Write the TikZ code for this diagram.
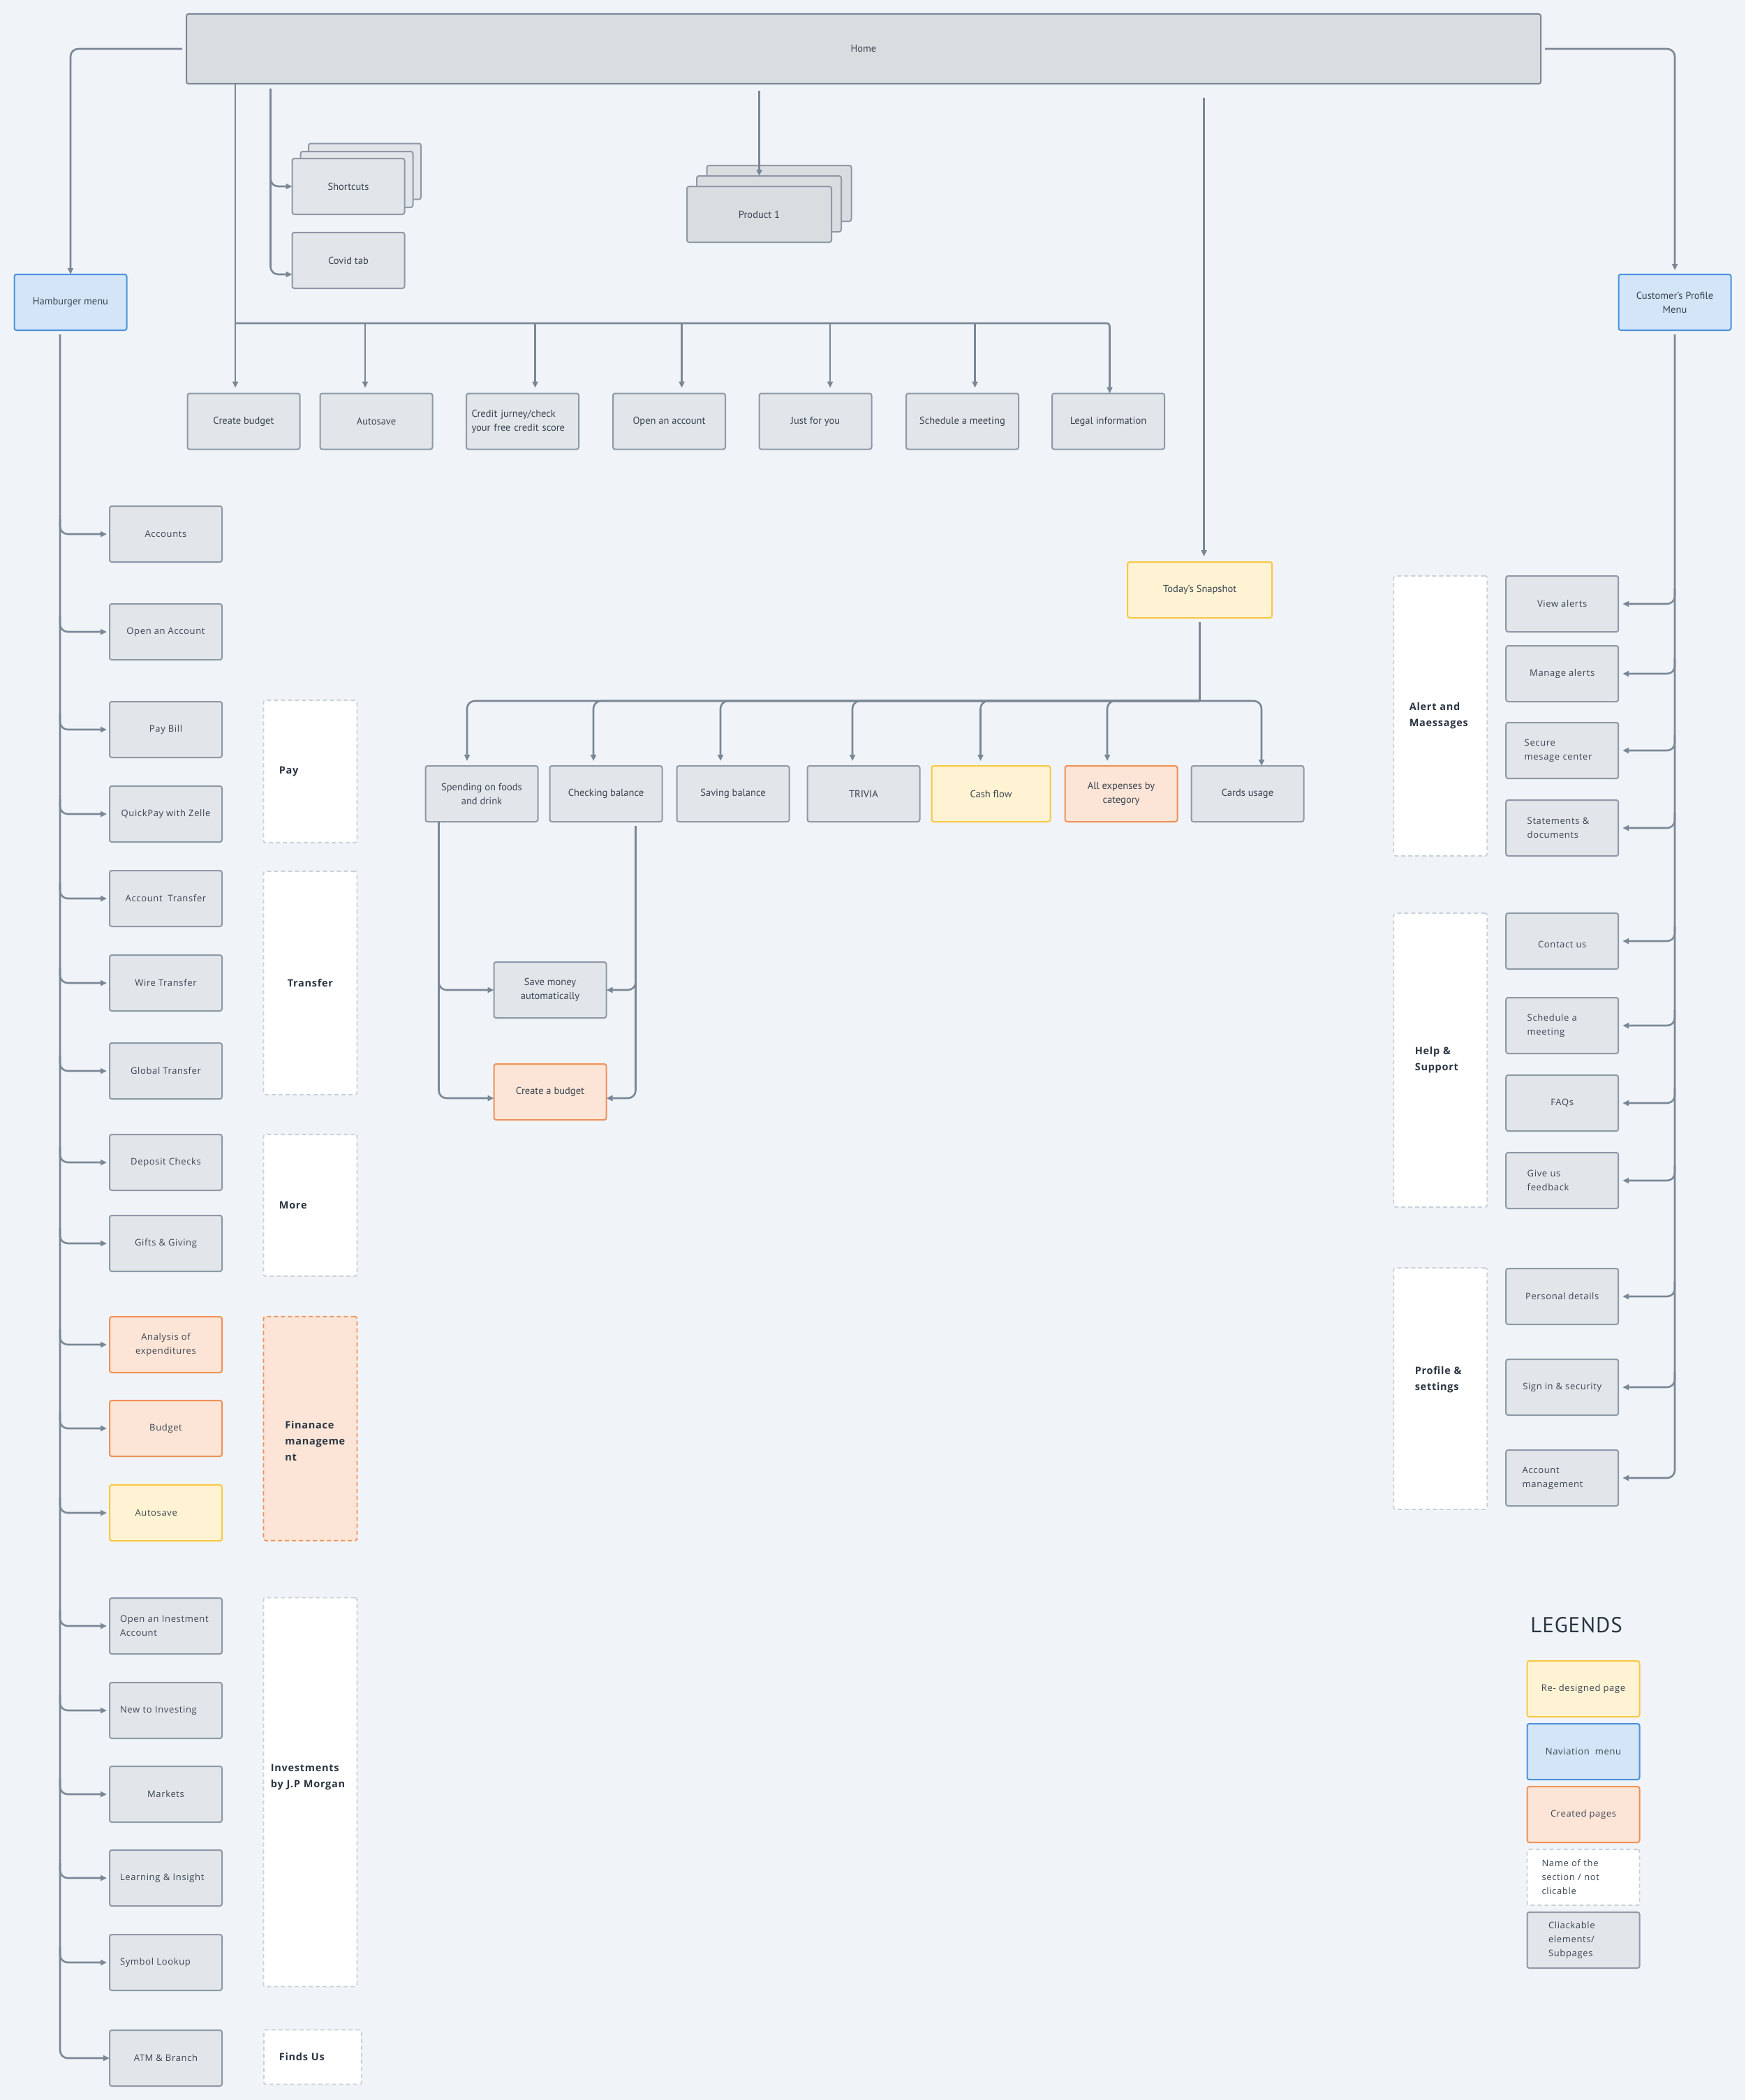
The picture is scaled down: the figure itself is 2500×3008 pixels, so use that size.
\documentclass[tikz,border=0pt]{standalone}
\usepackage{fontspec}
\setmainfont{PT Sans}
\newfontfamily\widefont[LetterSpace=5]{Open Sans}
\newfontfamily\legendfont[LetterSpace=3]{PT Sans}
\usetikzlibrary{positioning, arrows.meta, calc}

\definecolor{bgc}{HTML}{F0F4F8}
\definecolor{boxfill}{HTML}{E2E5E9}
\definecolor{boxline}{HTML}{8E99A6}
\definecolor{homefill}{HTML}{DADDE0}
\definecolor{homeline}{HTML}{7B8694}
\definecolor{wirec}{HTML}{7A8796}
\definecolor{navfill}{HTML}{D3E5F7}
\definecolor{navline}{HTML}{4A91DE}
\definecolor{redofill}{HTML}{FFF3D3}
\definecolor{redoline}{HTML}{F8C744}
\definecolor{madefill}{HTML}{FCE4D6}
\definecolor{madeline}{HTML}{EF9157}
\definecolor{secline}{HTML}{C9D1DA}
\definecolor{txt}{HTML}{3A4552}
\definecolor{txtdark}{HTML}{2A3542}

\begin{document}
\hyphenpenalty=10000
\begin{tikzpicture}[
  x=1pt, y=-1pt,
  box/.style={rectangle, draw=boxline, fill=boxfill, line width=2pt, rounded corners=3pt,
              minimum width=161pt, minimum height=80pt, inner sep=4pt, outer sep=0pt,
              align=center, text=txt, font=\fontsize{14.5}{20}\selectfont},
  sidebox/.style={box, font=\widefont\fontsize{13}{20}\selectfont},
  navcol/.style={fill=navfill, draw=navline},
  redocol/.style={fill=redofill, draw=redoline},
  madecol/.style={fill=madefill, draw=madeline},
  secbox/.style={rectangle, draw=secline, fill=white, line width=1.8pt,
                 dash pattern=on 6pt off 4pt, rounded corners=3pt, minimum width=134pt,
                 inner sep=2pt, outer sep=0pt, align=left, text=txtdark,
                 font=\widefont\bfseries\fontsize{14.5}{23}\selectfont},
  wire/.style={draw=wirec, line width=2.6pt, rounded corners=11pt},
  conn/.style={wire, -{Triangle[length=9pt,width=8pt]}},
]
  \fill[bgc] (0,0) rectangle (2500,3008);
  \useasboundingbox (0,0) rectangle (2500,3008);

  % home and the two menus
  \node[box, minimum width=1940pt, minimum height=100pt, fill=homefill, draw=homeline]
       (home) at (1237,70) {Home};
  \node[box, navcol] (ham) at (101,433) {Hamburger menu};
  \node[box, navcol] (cust) at (2399,433) {Customer’s Profile\\Menu};

  % stacked pages
  \node[box] (sc3) at (522.5,245.5) {};
  \node[box] (sc2) at (511,257) {};
  \node[box] (sc) at (499,267) {Shortcuts};
  \node[box] (covid) at (499,373) {Covid tab};
  \node[box, minimum width=207pt, fill=homefill] (prod3) at (1116,277) {};
  \node[box, minimum width=207pt, fill=homefill] (prod2) at (1101.5,292) {};
  \node[box, minimum width=207pt, fill=homefill] (prod1) at (1087.5,307) {Product 1};

  % home row
  \node[box] (cb) at (349,603.5) {Create budget};
  \node[box, right=29pt of cb] (autosave) {Autosave};
  \node[box, right=48.5pt of autosave, align=left, text width=146pt, inner xsep=6pt]
       (credit) {Credit jurney/check\\your free credit score};
  \node[box, right=49pt of credit] (openacct) {Open an account};
  \node[box, right=48.5pt of openacct] (jfy) {Just for you};
  \node[box, right=49.5pt of jfy] (sched) {Schedule a meeting};
  \node[box, right=48pt of sched] (legal) {Legal information};

  % snapshot
  \node[box, redocol, minimum width=207pt] (snap) at (1718.7,845) {Today’s Snapshot};
  \node[box] (spend) at (690,1137) {Spending on foods\\and drink};
  \node[box, right=17pt of spend] (check) {Checking balance};
  \node[box, right=21pt of check] (saving) {Saving balance};
  \node[box, right=26pt of saving] (trivia) {TRIVIA};
  \node[box, redocol, minimum width=170pt, right=17pt of trivia] (cash) {Cash flow};
  \node[box, madecol, right=21pt of cash] (allexp) {All expenses by\\category};
  \node[box, right=20pt of allexp] (cards) {Cards usage};
  \node[box] (save) at (788,1418) {Save money\\automatically};
  \node[box, madecol, below=66pt of save] (cbud) {Create a budget};

  % hamburger menu items
  \node[sidebox] (acc) at (237.5,765) {Accounts};
  \node[sidebox, below=60pt of acc] (openacc) {Open an Account};
  \node[sidebox, below=60pt of openacc] (paybill) {Pay Bill};
  \node[sidebox, below=41pt of paybill] (quickpay) {QuickPay with Zelle};
  \node[sidebox, below=41pt of quickpay] (acctrans) {Account~~Transfer};
  \node[sidebox, below=41pt of acctrans] (wiretr) {Wire Transfer};
  \node[sidebox, below=46pt of wiretr] (globaltr) {Global Transfer};
  \node[sidebox, below=51pt of globaltr] (deposit) {Deposit Checks};
  \node[sidebox, below=36pt of deposit] (gifts) {Gifts \& Giving};
  \node[sidebox, madecol, below=65pt of gifts] (analysis) {Analysis of\\expenditures};
  \node[sidebox, madecol, below=40pt of analysis] (budget) {Budget};
  \node[sidebox, redocol, below=41pt of budget, align=left, text width=88pt] (autosave2) {Autosave};
  \node[sidebox, below=82pt of autosave2, align=left, text width=131pt] (openinv) {Open an Inestment\\Account};
  \node[sidebox, below=41pt of openinv, align=left, text width=131pt] (newinv) {New to Investing};
  \node[sidebox, below=40pt of newinv] (markets) {Markets};
  \node[sidebox, below=40pt of markets, align=left, text width=131pt] (learning) {Learning \& Insight};
  \node[sidebox, below=41pt of learning, align=left, text width=131pt] (symbol) {Symbol Lookup};
  \node[sidebox, below=57pt of symbol] (atm) {ATM \& Branch};

  % hamburger sections
  \node[secbox, minimum height=204pt, text width=89pt] (pay) at (444.4,1105) {Pay};
  \node[secbox, minimum height=320pt, text width=89pt, align=center] (transfer) at (444.4,1408) {Transfer};
  \node[secbox, minimum height=203pt, text width=89pt] (more) at (444.4,1726.5) {More};
  \node[secbox, madecol, minimum height=321pt, text width=72pt] (finance) at (444.4,2046.3)
       {\mbox{}\\\mbox{}\\Finanace\\manageme\\nt};
  \node[secbox, minimum height=557pt, text width=113pt] (invest) at (444.4,2567)
       {Investments\\by J.P Morgan\\\mbox{}\\\mbox{}};
  \node[secbox, minimum width=140pt, minimum height=78pt, text width=96pt] (finds) at (447.9,2946.5) {Finds Us};

  % profile menu items
  \node[sidebox] (view) at (2237.7,865) {View alerts};
  \node[sidebox, below=20pt of view] (manage) {Manage alerts};
  \node[sidebox, below=30pt of manage, align=left, text width=108pt] (secure) {Secure\\mesage center};
  \node[sidebox, below=31pt of secure, align=left, text width=100pt] (statements) {Statements \&\\documents};
  \node[sidebox, below=82pt of statements] (contact) {\mbox{}\\Contact us};
  \node[sidebox, below=41pt of contact, align=left, text width=100pt] (schedule2) {Schedule a\\meeting};
  \node[sidebox, below=31pt of schedule2] (faqs) {FAQs};
  \node[sidebox, below=31pt of faqs, align=left, text width=100pt] (feedback) {Give us\\feedback};
  \node[sidebox, below=86pt of feedback] (personal) {Personal details};
  \node[sidebox, below=50pt of personal] (signin) {Sign in \& security};
  \node[sidebox, below=50pt of signin, align=left, text width=114pt] (acctmgmt) {Account\\management};

  % profile sections
  \node[secbox, minimum height=401pt, text width=89pt] (alerts) at (2063.3,1025.4) {Alert and\\Maessages};
  \node[secbox, minimum height=421pt, text width=73pt] (help) at (2063.3,1518.5) {Help \&\\Support};
  \node[secbox, minimum height=346pt, text width=73pt] (profile) at (2063.3,1989)
       {Profile \&\\settings\\[7pt]\mbox{}};

  % legend
  \node[font=\legendfont\fontsize{31}{31}\selectfont, text=txtdark] (legtitle) at (2258,2328) {LEGENDS};
  \node[sidebox, redocol] (legredo) at (2268,2419) {Re- designed page};
  \node[sidebox, navcol, below=10pt of legredo] (legnav) {Naviation~~menu};
  \node[sidebox, madecol, below=10pt of legnav] (legmade) {Created pages};
  \node[secbox, below=10pt of legmade, minimum width=161pt, minimum height=80pt, text width=119pt,
        text=txt, font=\widefont\fontsize{13}{20}\selectfont] (legsec) {Name of the\\section / not\\clicable};
  \node[sidebox, below=10pt of legsec, align=left, text width=100pt] (legclick) {Cliackable\\elements/\\Subpages};

  % connectors from home
  \draw[conn, shorten <=6pt] (home.west) -| (ham.north);
  \draw[conn, shorten <=6pt, shorten >=6pt] (home.east) -| (cust.north);

  \coordinate (sc-trunk) at ([xshift=-31pt]sc.west);
  \draw[conn, shorten <=7pt] (sc-trunk |- home.south) |- (sc.west);
  \draw[conn, shorten <=7pt] (sc-trunk |- home.south) |- ([yshift=-20pt]covid.west);
  \draw[conn, shorten <=10pt] (prod1.north |- home.south) -- (prod1.north |- prod2.north);

  \coordinate (topbar) at ([yshift=-343pt]home.south);
  \foreach \n/\dx in {cb/-12,autosave/-16,credit/18,openacct/18,jfy/21,sched/18,legal/2}
    \coordinate (\n-in) at ([xshift=\dx pt]\n.north);
  \draw[conn, shorten >=8pt] (cb-in |- home.south) -- (cb-in);
  \draw[conn, rounded corners=4pt] (cb-in |- topbar) -| (legal-in);
  \foreach \n in {autosave,credit,openacct,jfy,sched}
    \draw[conn, shorten >=8pt] (\n-in |- topbar) -- (\n-in);

  % snapshot branches
  \coordinate (snap-in) at ([xshift=6pt]snap.north);
  \draw[conn, shorten <=20pt, shorten >=8pt] (snap-in |- home.south) -- (snap-in);
  \coordinate (snapbar) at ([yshift=-119pt]snap.south);
  \draw[wire, shorten <=6pt] (snap.south) -- (snapbar);
  \foreach \n/\dx in {spend/-21,check/-18,saving/-18,trivia/-16,cash/-15,allexp/-20} {
    \coordinate (\n-in) at ([xshift=\dx pt]\n.north);
    \draw[conn, shorten >=7pt] (snapbar) -| (\n-in);
  }
  \coordinate (cards-in) at ([xshift=20pt]cards.north);
  \draw[conn] (snapbar) -| (cards-in);

  \coordinate (spend-out) at ([xshift=19pt]spend.south west);
  \coordinate (check-out) at ([xshift=-38pt]check.south east);
  \draw[conn] (spend-out) |- (save.west);
  \draw[conn] (spend-out) |- ([yshift=-9pt]cbud.west);
  \draw[conn, shorten <=6pt] (check-out) |- (save.east);
  \draw[conn, shorten <=6pt] (check-out) |- ([yshift=-9pt]cbud.east);

  % hamburger trunk
  \coordinate (ham-out) at ([xshift=-15pt]ham.south);
  \draw[conn, shorten <=6pt] (ham-out) |- (atm.west);
  \foreach \n in {acc,openacc,paybill,quickpay,acctrans,wiretr,globaltr,deposit,gifts,analysis,budget,autosave2,openinv,newinv,markets,learning,symbol}
    \draw[conn, shorten >=4pt] ($(ham-out |- \n.west)+(0,-22)$) |- (\n.west);

  % profile trunk
  \draw[conn, shorten <=6pt, shorten >=6pt] (cust.south) |- (acctmgmt.east);
  \foreach \n in {view,manage,secure,statements,contact,schedule2,faqs,feedback,personal,signin}
    \draw[conn, shorten >=6pt] ($(cust.south |- \n.east)+(0,-22)$) |- (\n.east);
\end{tikzpicture}
\end{document}
